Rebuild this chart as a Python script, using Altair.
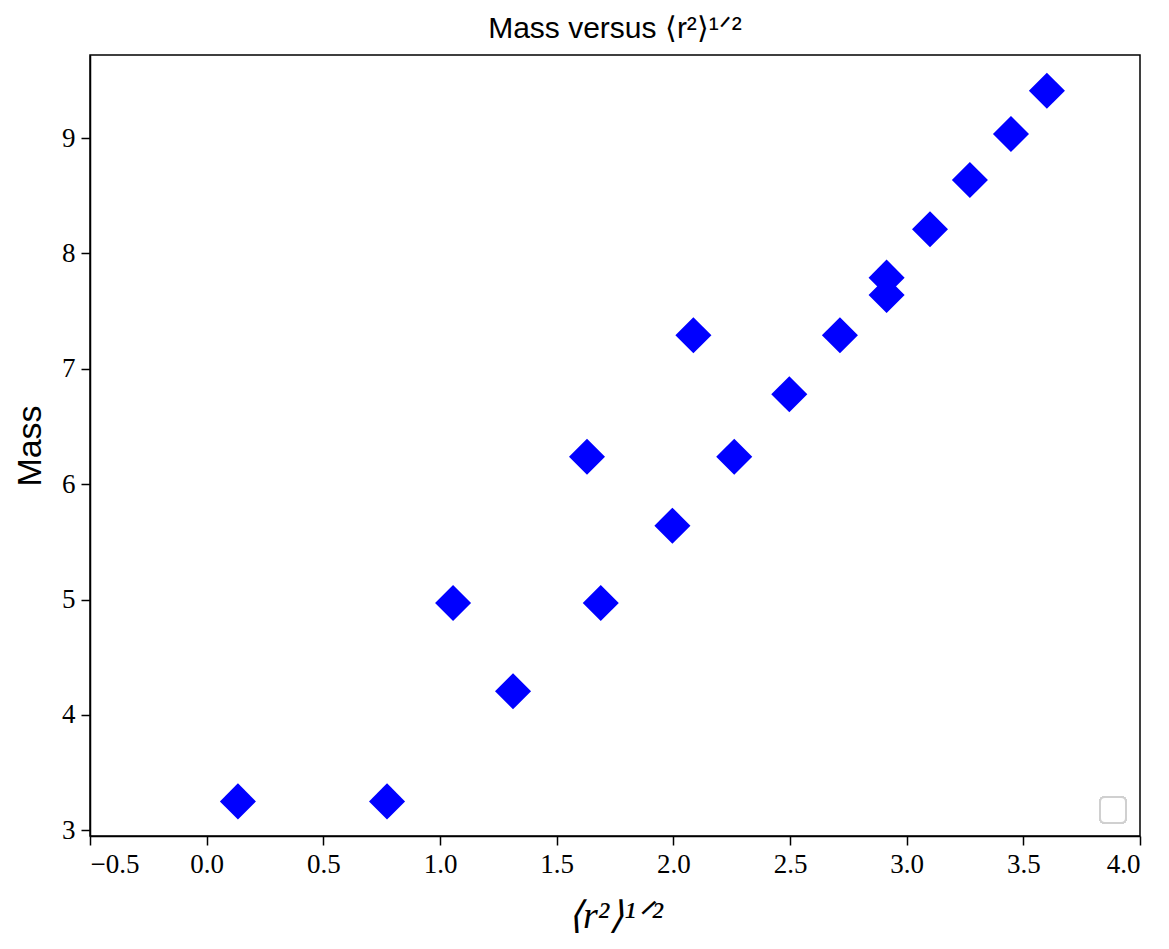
import altair as alt
import pandas as pd

r_rms = [0.134, 0.773, 1.056, 1.313, 1.630, 1.689, 1.996, 2.086, 2.261,
         2.497, 2.714, 2.914, 2.914, 3.100, 3.271, 3.447, 3.601]
mass = [3.25, 3.25, 4.97, 4.205, 6.237, 4.97, 5.64, 7.29, 6.237,
        6.78, 7.29, 7.64, 7.79, 8.21, 8.636, 9.035, 9.41]
x_ticks = [-0.5, 0.0, 0.5, 1.0, 1.5, 2.0, 2.5, 3.0, 3.5, 4.0]
y_ticks = [3, 4, 5, 6, 7, 8, 9]

df = pd.DataFrame({"r": r_rms, "m": mass})

W, H = 1050, 781
SERIF = "Liberation Serif"
SANS = "Liberation Sans"

points = alt.Chart(df).mark_point(
    shape="diamond", filled=True, size=1300, color="#0000ff", opacity=1
).encode(
    x=alt.X("r:Q", scale=alt.Scale(domain=[-0.5, 4.0], nice=False, zero=False),
            axis=alt.Axis(values=x_ticks, format=".1f", title="⟨r²⟩¹ᐟ²",
                          titleFont=SERIF, titleFontSize=38, titleFontStyle="italic",
                          titleFontWeight="normal", titlePadding=20)),
    y=alt.Y("m:Q", scale=alt.Scale(domain=[2.95, 9.72], nice=False, zero=False),
            axis=alt.Axis(values=y_ticks, format="d", title="Mass",
                          titleFont=SANS, titleFontSize=34, titleFontWeight="normal",
                          titlePadding=14)),
)

legend_box = alt.Chart(df).mark_rect(
    fill="white", stroke="#d0d0d0", strokeWidth=2, cornerRadius=5
).encode(
    x=alt.value(1010), x2=alt.value(1036), y=alt.value(742), y2=alt.value(768)
)

chart = alt.layer(points, legend_box).properties(
    width=W, height=H, background="white",
    title=alt.Title("Mass versus ⟨r²⟩¹ᐟ²", font=SANS, fontSize=30,
                    fontWeight="normal", anchor="middle", offset=11, color="black"),
    autosize=alt.AutoSizeParams(type="none"),
    padding={"left": 82, "top": 47, "right": 21, "bottom": 112},
).configure_view(
    stroke="black", strokeWidth=1.5
).configure_axis(
    grid=False, domainColor="black", domainWidth=1.5, tickColor="black",
    tickWidth=1.5, tickSize=9, labelFont=SERIF, labelFontSize=27,
    labelColor="black", titleColor="black", labelPadding=6
)

chart.save("out.html", embed_options={"renderer": "svg", "actions": False})
